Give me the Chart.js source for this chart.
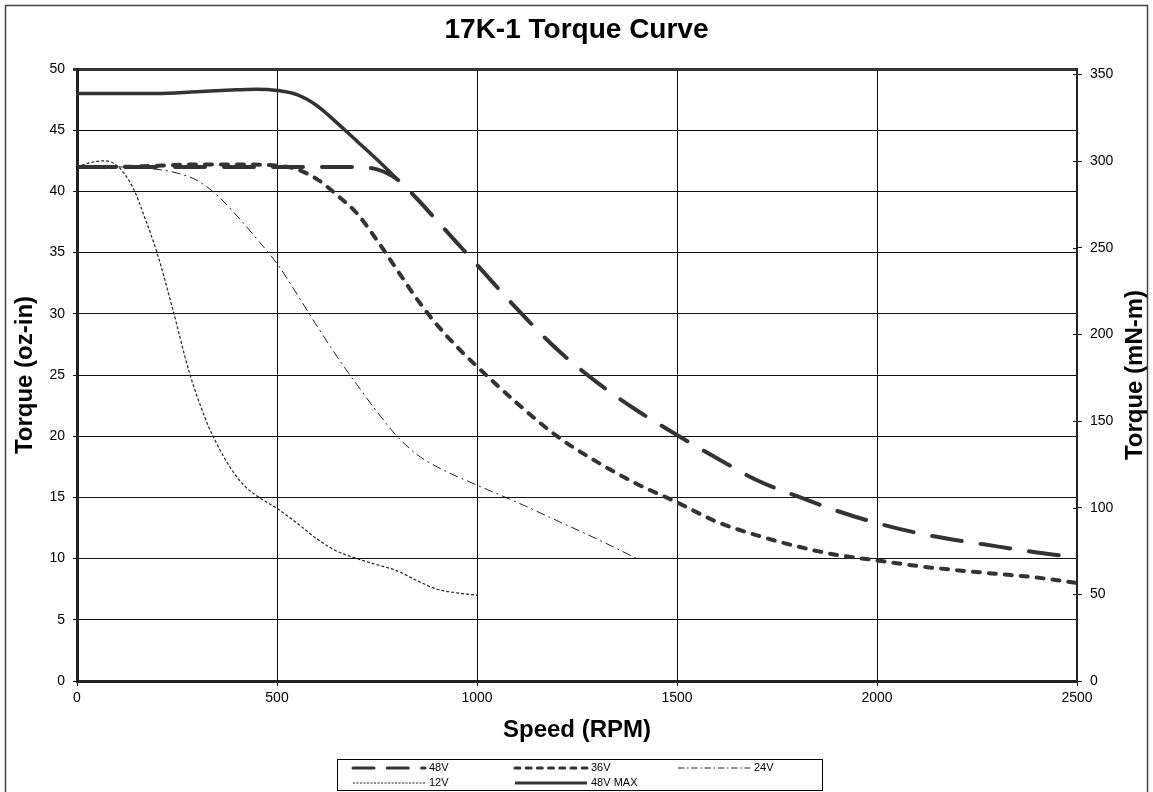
<!DOCTYPE html>
<html><head><meta charset="utf-8">
<script src="https://cdn.jsdelivr.net/npm/chart.js@4.4.1/dist/chart.umd.min.js"></script>
<style>html,body{margin:0;padding:0;background:#fff;}</style>
</head><body>
<canvas id="c" width="1153" height="792"></canvas>
<script>
// ---- data ----
const chartTitle = '17K-1 Torque Curve';
const xAxisTitle = 'Speed (RPM)';
const yAxisTitle = 'Torque (oz-in)';
const y2AxisTitle = 'Torque (mN-m)';
const seriesLabels = ['48V', '36V', '24V', '12V', '48V MAX'];

const rpm48V = [0, 100, 200, 300, 400, 500, 600, 700, 750, 800, 850, 900, 950, 1000, 1100, 1200, 1300, 1400, 1500, 1600, 1700, 1800, 1900, 2000, 2100, 2200, 2300, 2400, 2500];
const torque48V = [42.0, 42.0, 42.0, 42.0, 42.0, 42.0, 42.0, 42.0, 41.8, 41.0, 39.4, 37.6, 35.8, 34.0, 30.4, 27.1, 24.4, 22.1, 20.1, 18.2, 16.4, 15.1, 13.9, 12.9, 12.1, 11.5, 11.0, 10.5, 10.1];

const rpm36V = [0, 100, 200, 300, 400, 500, 550, 600, 650, 700, 750, 800, 850, 900, 950, 1000, 1100, 1200, 1300, 1400, 1500, 1600, 1700, 1800, 1900, 2000, 2100, 2200, 2300, 2400, 2500];
const torque36V = [42.0, 42.0, 42.1, 42.2, 42.2, 42.1, 41.8, 41.0, 39.7, 38.2, 36.0, 33.6, 31.2, 29.1, 27.3, 25.7, 22.7, 20.0, 17.9, 16.1, 14.6, 13.0, 11.9, 11.0, 10.3, 9.85, 9.4, 9.05, 8.75, 8.45, 8.0];

const rpm24V = [0, 100, 200, 250, 300, 350, 400, 450, 500, 550, 600, 650, 700, 750, 800, 850, 900, 1000, 1100, 1200, 1300, 1400];
const torque24V = [42.0, 42.0, 41.8, 41.5, 40.9, 39.7, 38.0, 36.1, 34.1, 31.6, 29.0, 26.5, 24.2, 22.0, 20.0, 18.5, 17.5, 16.0, 14.6, 13.1, 11.6, 10.0];

const rpm12V = [0, 40, 70, 100, 140, 170, 200, 240, 280, 320, 340, 380, 420, 460, 500, 550, 600, 650, 700, 750, 800, 850, 900, 950, 1000];
const torque12V = [42.0, 42.4, 42.5, 42.1, 40.3, 37.8, 35.0, 30.3, 25.3, 21.5, 20.0, 17.6, 15.9, 14.9, 14.1, 12.9, 11.6, 10.6, 10.0, 9.5, 9.0, 8.2, 7.5, 7.2, 7.0];

const rpm48VMax = [0, 100, 200, 300, 400, 450, 500, 550, 600, 650, 700, 750, 800];
const torque48VMax = [48.0, 48.0, 48.0, 48.15, 48.3, 48.35, 48.25, 47.9, 47.0, 45.6, 44.1, 42.6, 41.0];

const speedTickStep = 500;                               // RPM
const torqueTickStep = 5;                                // oz-in
const mNmTicks = [0, 50, 100, 150, 200, 250, 300, 350];  // right axis labels
const OZIN_TO_MNM = 7.0616;

function pts(xs, ys) { return xs.map((x, i) => ({ x: x, y: ys[i] })); }

const FONT = "'Liberation Sans', Arial, sans-serif";
const DARK = '#333333';

const framePlugin = {
  id: 'frame',
  beforeDraw(chart) {
    const ctx = chart.ctx;
    ctx.save();
    ctx.fillStyle = '#fff';
    ctx.fillRect(0, 0, chart.width, chart.height);
    ctx.strokeStyle = '#444';
    ctx.lineWidth = 1.5;
    ctx.strokeRect(5.5, 5.5, 1142, 830);
    ctx.restore();
  }
};

const rightAxisPlugin = {
  id: 'rightAxisExtras',
  afterDraw(chart) {
    const ctx = chart.ctx;
    const area = chart.chartArea;
    const s = chart.scales.y2;
    ctx.save();
    // inner half of the crossing tick marks
    ctx.strokeStyle = '#111';
    ctx.lineWidth = 1;
    mNmTicks.forEach(v => {
      const py = Math.round(s.getPixelForValue(v)) + 0.5;
      ctx.beginPath();
      ctx.moveTo(area.right - 4, py);
      ctx.lineTo(area.right, py);
      ctx.stroke();
    });
    // right axis title, reading bottom-to-top
    ctx.translate(1135, (area.top + area.bottom) / 2);
    ctx.rotate(-Math.PI / 2);
    ctx.font = 'bold 24px ' + FONT;
    ctx.fillStyle = '#000';
    ctx.textAlign = 'center';
    ctx.textBaseline = 'middle';
    ctx.fillText(y2AxisTitle, 0, 0);
    ctx.restore();
  }
};

const legendPlugin = {
  id: 'boxLegend',
  afterDraw(chart) {
    const ctx = chart.ctx;
    ctx.save();
    ctx.strokeStyle = '#000';
    ctx.lineWidth = 1;
    ctx.strokeRect(337.5, 759.5, 485, 31);
    const colX = [353, 515, 678];
    const rowY = [768, 783];
    ctx.font = '11px ' + FONT;
    ctx.textBaseline = 'middle';
    ctx.fillStyle = '#000';
    chart.data.datasets.forEach((ds, i) => {
      const c = i % 3, r = Math.floor(i / 3);
      const x0 = colX[c], y = rowY[r];
      ctx.save();
      ctx.strokeStyle = ds.borderColor;
      ctx.lineWidth = Math.min(ds.borderWidth, 3);
      ctx.lineCap = ds.borderCapStyle || 'butt';
      ctx.setLineDash((ds.borderDash || []).map(v => v * 0.7));
      ctx.beginPath();
      ctx.moveTo(x0, y);
      ctx.lineTo(x0 + 72, y);
      ctx.stroke();
      ctx.restore();
      ctx.fillText(ds.label, x0 + 76, y);
    });
    ctx.restore();
  }
};

new Chart(document.getElementById('c'), {
  type: 'line',
  data: {
    datasets: [
      { label: seriesLabels[0], data: pts(rpm48V, torque48V), borderColor: DARK, borderWidth: 4, borderDash: [30, 19], borderCapStyle: 'round' },
      { label: seriesLabels[1], data: pts(rpm36V, torque36V), borderColor: DARK, borderWidth: 4, borderDash: [7, 9], borderCapStyle: 'round' },
      { label: seriesLabels[2], data: pts(rpm24V, torque24V), borderColor: '#222', borderWidth: 1, borderDash: [9, 4, 2, 4] },
      { label: seriesLabels[3], data: pts(rpm12V, torque12V), borderColor: '#222', borderWidth: 1.2, borderDash: [3, 2] },
      { label: seriesLabels[4], data: pts(rpm48VMax, torque48VMax), borderColor: DARK, borderWidth: 3.5 }
    ].map(d => Object.assign(d, { fill: false, pointRadius: 0, pointHoverRadius: 0, cubicInterpolationMode: 'monotone', yAxisID: 'y' }))
  },
  options: {
    responsive: false,
    animation: false,
    devicePixelRatio: 1,
    layout: { padding: { left: 0, right: 0, top: 0, bottom: 47 } },
    plugins: {
      legend: { display: false },
      tooltip: { enabled: false },
      title: {
        display: true, text: chartTitle, color: '#000',
        font: { family: FONT, size: 28, weight: 'bold' },
        padding: { top: 13.2, bottom: 22.2 }
      }
    },
    scales: {
      x: {
        type: 'linear', position: 'bottom', min: 0, max: 2500,
        ticks: { stepSize: speedTickStep, color: '#000', font: { family: FONT, size: 14 }, padding: 4, maxRotation: 0, callback: v => String(v) },
        grid: { color: '#111', lineWidth: 1, tickLength: 5 },
        border: { color: '#222', width: 3 },
        title: { display: true, text: xAxisTitle, color: '#000', font: { family: FONT, size: 24, weight: 'bold' }, padding: { top: 0, bottom: 0 } },
        afterFit(s) { s.height = 64; }
      },
      y: {
        position: 'left', min: 0, max: 50,
        ticks: { stepSize: torqueTickStep, color: '#000', font: { family: FONT, size: 14 }, padding: 8 },
        grid: { color: ctx => (ctx.tick && ctx.tick.value === 50) ? '#333' : '#111', lineWidth: ctx => (ctx.tick && ctx.tick.value === 50) ? 3 : 1, tickLength: 4 },
        border: { color: '#222', width: 3 },
        title: { display: true, text: yAxisTitle, color: '#000', font: { family: FONT, size: 24, weight: 'bold' }, padding: { top: 10.6, bottom: 0 } },
        afterFit(s) { s.width = 77; }
      },
      y2: {
        position: 'right', min: 0, max: 50 * OZIN_TO_MNM,
        ticks: { color: '#000', font: { family: FONT, size: 14 }, padding: 8, callback: v => String(v) },
        afterBuildTicks(s) { s.ticks = mNmTicks.map(v => ({ value: v })); },
        grid: { drawOnChartArea: false, color: '#111', tickLength: 5 },
        border: { color: '#222', width: 2 },
        title: { display: false },
        afterFit(s) { s.width = 76; }
      }
    }
  },
  plugins: [framePlugin, legendPlugin, rightAxisPlugin]
});
</script>
</body></html>
